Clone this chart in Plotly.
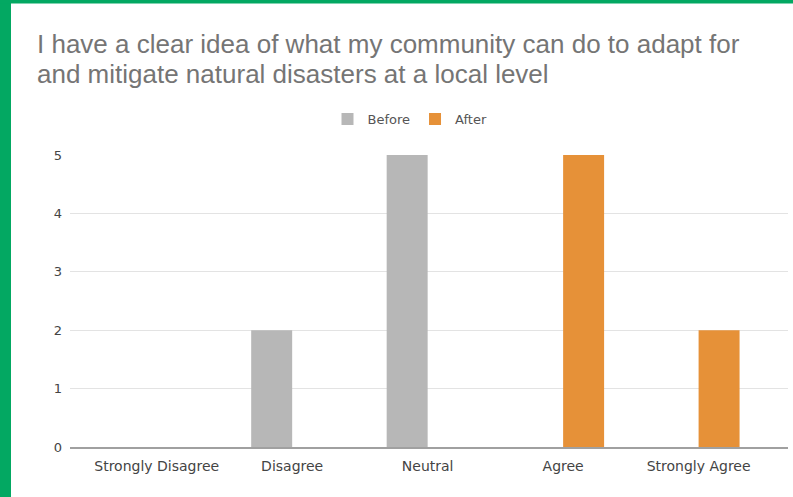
import plotly.graph_objects as go

# Survey responses, counted before and after the workshop
categories = ["Strongly Disagree", "Disagree", "Neutral", "Agree", "Strongly Agree"]
before = [0, 2, 5, 0, 0]
after = [0, 0, 0, 5, 2]
y_ticks = [0, 1, 2, 3, 4, 5]

title_lines = [
    "I have a clear idea of what my community can do to adapt for",
    "and mitigate natural disasters at a local level",
]

W, H = 793, 497
L, R, T, B = 70, 5, 155, 50
PW, PH = W - L - R, H - T - B


def px_x(x):
    return (x - L) / PW


def px_y(y):
    return (H - B - y) / PH


GREEN = "#03a862"

fig = go.Figure()
fig.add_trace(go.Bar(name="Before", x=categories, y=before, marker_color="#b7b7b7",
                     marker_line_width=0))
fig.add_trace(go.Bar(name="After", x=categories, y=after, marker_color="#e69138",
                     marker_line_width=0))

annotations = []
for i, (line, yc) in enumerate(zip(title_lines, [44, 74])):
    annotations.append(dict(
        text=line, xref="paper", yref="paper", x=px_x(35), y=px_y(yc),
        xanchor="left", yanchor="middle", showarrow=False,
        font=dict(family="Liberation Sans, Arial, sans-serif", size=26, color="#757575"),
    ))

shapes = [
    dict(type="rect", xref="paper", yref="paper", x0=px_x(0), x1=px_x(11),
         y0=px_y(H), y1=px_y(0), fillcolor=GREEN, line_width=0, layer="above"),
    dict(type="rect", xref="paper", yref="paper", x0=px_x(0), x1=px_x(W),
         y0=px_y(3.5), y1=px_y(0), fillcolor=GREEN, line_width=0, layer="above"),
]

fig.update_layout(
    width=W, height=H,
    margin=dict(l=L, r=R, t=T, b=B),
    paper_bgcolor="white", plot_bgcolor="white",
    barmode="group", bargap=0.395, bargroupgap=0,
    showlegend=True,
    legend=dict(orientation="h", x=px_x(410), xanchor="center", y=px_y(119), yanchor="middle",
                font=dict(family="DejaVu Sans, sans-serif", size=13, color="#555555"),
                bgcolor="rgba(0,0,0,0)"),
    annotations=annotations,
    shapes=shapes,
    xaxis=dict(type="category", range=[-0.64, 4.66], showgrid=False, showline=True,
               linecolor="#a0a0a0", linewidth=2, layer="above traces", ticks="",
               ticklabelstandoff=5,
               tickfont=dict(family="DejaVu Sans, sans-serif", size=14, color="#444444")),
    yaxis=dict(range=[0, 5.0], tickvals=y_ticks, showgrid=True, gridcolor="#e3e3e3",
               gridwidth=1, zeroline=False, showline=False, ticks="", ticklabelstandoff=7,
               tickfont=dict(family="DejaVu Sans, sans-serif", size=13, color="#444444")),
)

fig.write_html("out.html")
